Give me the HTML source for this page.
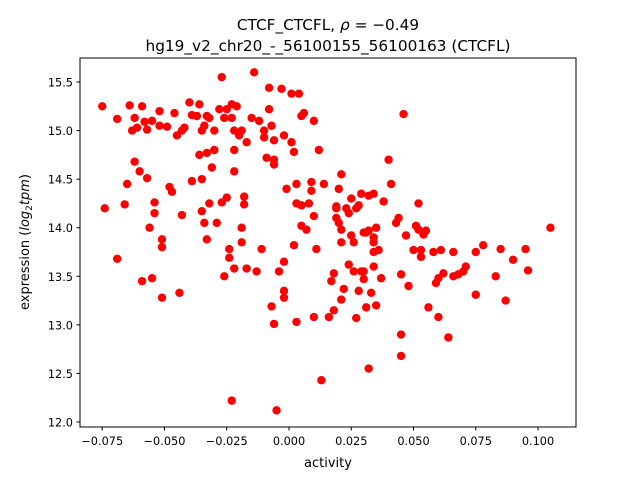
<!DOCTYPE html>
<html><head><meta charset="utf-8"><style>body{margin:0;background:#fff}svg{display:block;font-family:"DejaVu Sans","Liberation Sans",sans-serif}</style></head>
<body>
<svg id="chart" width="640" height="480" viewBox="0 0 640 480">
<rect width="640" height="480" fill="#fff"/>
<text x="328" y="30" text-anchor="middle" font-size="15.3">CTCF_CTCFL, <tspan font-style="italic">ρ</tspan> = −0.49</text>
<text x="328" y="51" text-anchor="middle" font-size="15.3">hg19_v2_chr20_-_56100155_56100163 (CTCFL)</text>
<g id="plot"></g>
<rect x="80" y="58" width="496" height="369" fill="none" stroke="#000" stroke-width="1"/>
<text x="328" y="467" text-anchor="middle" font-size="13">activity</text>
<text transform="translate(29,242) rotate(-90)" text-anchor="middle" font-size="13">expression (<tspan font-style="italic">log</tspan><tspan font-size="9" dy="3">2</tspan><tspan dy="-3" font-style="italic">tpm</tspan>)</text>
</svg>
<script>
const xs=[-0.075,-0.074,-0.069,-0.069,-0.066,-0.065,-0.064,-0.063,-0.062,-0.062,-0.061,-0.060,-0.059,-0.059,-0.058,-0.057,-0.057,-0.056,-0.055,-0.055,-0.054,-0.054,-0.052,-0.052,-0.051,-0.051,-0.051,-0.049,-0.048,-0.047,-0.046,-0.045,-0.044,-0.043,-0.043,-0.042,-0.040,-0.039,-0.039,-0.037,-0.036,-0.036,-0.035,-0.035,-0.035,-0.034,-0.034,-0.033,-0.033,-0.033,-0.032,-0.032,-0.031,-0.030,-0.030,-0.029,-0.028,-0.027,-0.027,-0.026,-0.026,-0.025,-0.025,-0.024,-0.024,-0.023,-0.023,-0.022,-0.022,-0.022,-0.022,-0.023,-0.021,-0.020,-0.019,-0.019,-0.019,-0.018,-0.018,-0.017,-0.017,-0.015,-0.014,-0.013,-0.012,-0.011,-0.010,-0.010,-0.009,-0.008,-0.008,-0.007,-0.007,-0.006,-0.006,-0.006,-0.006,-0.005,-0.004,-0.003,-0.002,-0.002,-0.002,-0.002,-0.001,0.001,0.001,0.002,0.002,0.003,0.003,0.003,0.004,0.005,0.005,0.005,0.006,0.007,0.008,0.009,0.009,0.010,0.010,0.010,0.011,0.012,0.013,0.014,0.016,0.017,0.018,0.018,0.019,0.019,0.019,0.020,0.020,0.021,0.021,0.021,0.021,0.022,0.023,0.024,0.024,0.025,0.025,0.026,0.026,0.027,0.027,0.028,0.028,0.029,0.029,0.030,0.030,0.030,0.031,0.031,0.032,0.032,0.032,0.033,0.034,0.034,0.034,0.034,0.034,0.035,0.035,0.036,0.037,0.038,0.040,0.041,0.043,0.044,0.045,0.045,0.045,0.046,0.047,0.048,0.050,0.051,0.052,0.052,0.053,0.053,0.054,0.055,0.056,0.058,0.059,0.060,0.060,0.061,0.062,0.064,0.066,0.066,0.068,0.070,0.071,0.075,0.075,0.078,0.083,0.085,0.087,0.090,0.095,0.096,0.105];
const ys=[15.25,14.2,15.12,13.68,14.24,14.45,15.26,15.0,15.13,14.68,15.03,14.58,15.25,13.45,15.09,15.01,14.51,14.0,13.48,15.1,14.26,14.15,15.05,15.2,13.88,13.8,13.28,15.04,14.42,14.37,15.18,14.95,13.33,14.13,15.0,15.03,15.29,15.16,14.48,15.15,15.27,14.75,15.0,14.5,14.17,14.05,15.05,15.15,14.77,13.88,14.25,15.13,14.62,15.0,14.8,14.05,15.22,15.55,14.26,13.5,15.13,14.31,15.22,13.69,13.78,15.27,15.13,15.0,14.58,14.8,13.58,12.22,15.25,14.95,15.0,13.85,14.0,14.32,14.24,13.58,14.88,15.13,15.6,13.55,15.1,13.78,15.0,14.93,14.72,15.22,15.44,13.19,15.05,14.7,14.65,13.01,14.9,12.12,13.55,15.43,14.95,13.65,13.35,13.28,14.4,14.88,15.38,14.78,13.82,14.25,14.45,13.03,15.38,14.23,14.02,15.15,15.18,13.98,14.25,14.47,14.38,14.12,13.08,15.1,13.78,14.8,12.43,14.45,13.08,13.45,13.53,13.15,14.22,14.1,14.2,14.4,14.05,13.85,13.98,13.26,14.55,13.37,14.2,14.15,13.62,14.3,13.92,13.85,13.55,13.07,14.2,13.35,14.23,14.35,13.55,13.95,13.55,13.47,13.18,13.95,14.33,13.97,12.55,13.33,13.6,14.35,13.9,13.85,13.75,14.0,13.2,13.77,13.48,14.27,14.7,14.45,14.05,14.1,12.9,12.68,13.52,15.17,13.92,13.4,13.77,14.02,13.98,14.25,13.7,13.77,13.93,13.97,13.18,13.75,13.43,13.08,13.48,13.77,13.53,12.87,13.5,13.75,13.52,13.55,13.6,13.31,13.75,13.82,13.5,13.78,13.25,13.67,13.78,13.56,14.0];
const xTicks=[-0.075,-0.05,-0.025,0,0.025,0.05,0.075,0.1];
const xTickLabels=["−0.075","−0.050","−0.025","0.000","0.025","0.050","0.075","0.100"];
const yTicks=[12.0,12.5,13.0,13.5,14.0,14.5,15.0,15.5];
const yTickLabels=["12.0","12.5","13.0","13.5","14.0","14.5","15.0","15.5"];
const X=v=>289+2490*v, Y=v=>422-(v-12)*97.14;
const ns="http://www.w3.org/2000/svg", g=document.getElementById('plot');
function mk(t,a){const e=document.createElementNS(ns,t);for(const k in a)e.setAttribute(k,a[k]);g.appendChild(e);return e;}
xTicks.forEach((v,i)=>{
  const l=mk('line',{x1:X(v),x2:X(v),y1:427,y2:430.5,stroke:'#000'});
  
  
  const t=mk('text',{x:X(v),y:445,'text-anchor':'middle','font-size':'11.3'});t.textContent=xTickLabels[i];
  
  
});
yTicks.forEach((v,i)=>{
  const l=mk('line',{x1:76.5,x2:80,y1:Y(v),y2:Y(v),stroke:'#000'});
  
  
  const t=mk('text',{x:73,y:Y(v)+4.5,'text-anchor':'end','font-size':'11.3'});t.textContent=yTickLabels[i];
  
  
});
xs.forEach((v,i)=>{
  const c=mk('circle',{cx:X(v),cy:Y(ys[i]),r:4.2,fill:'#ff0000'});
  
  
});
</script>
</body></html>
